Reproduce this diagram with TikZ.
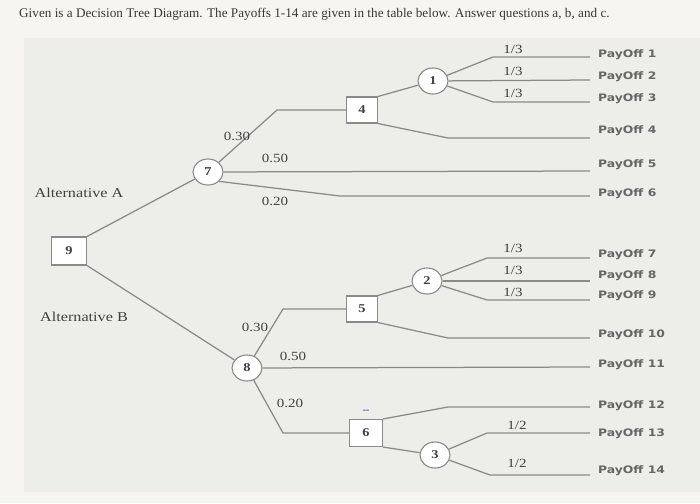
\documentclass[tikz,border=0pt]{standalone}
\usepackage{fontspec}
\setmainfont{Liberation Serif}[FakeStretch=1.2]
\newfontfamily\titlefont{Liberation Serif}
\newfontfamily\payfont{DejaVu Sans}[FakeStretch=1.2]
\usepackage{xcolor}
\usetikzlibrary{shapes.geometric}
\definecolor{linegray}{HTML}{8A8A8A}
\definecolor{labgray}{HTML}{404040}
\definecolor{paygray}{HTML}{666666}
\definecolor{panel}{HTML}{EDEDEA}
\definecolor{paper}{HTML}{F6F5F2}

\begin{document}
\begin{tikzpicture}[x=1pt,y=-1pt,
	branch/.style={draw=linegray,line width=1.25pt},
	decision/.style={rectangle,draw=linegray,fill=white,line width=1.1pt,minimum width=33pt,minimum height=27pt,inner sep=0pt,text=labgray,font=\bfseries\fontsize{12}{12}\selectfont},
	chance/.style={ellipse,draw=linegray,fill=white,line width=1.1pt,minimum width=30pt,minimum height=26pt,inner sep=0pt,text=labgray,font=\bfseries\fontsize{12}{12}\selectfont},
	prob/.style={text=labgray,font=\fontsize{12.5}{12.5}\selectfont,inner sep=0pt},
	alt/.style={text=labgray,font=\fontsize{13.5}{13.5}\selectfont,inner sep=0pt},
	pay/.style={anchor=west,text=paygray,font=\payfont\bfseries\fontsize{10.3}{10.3}\selectfont,inner sep=0pt}]
		\useasboundingbox (0,0) rectangle (700,503);
		\fill[paper] (0,0) rectangle (700,503);
		\fill[panel] (24,38) rectangle (700,492);
		\node[anchor=west,text=black!78,font=\titlefont\fontsize{13.2}{13.2}\selectfont,inner sep=0pt] (title) at (19,14) {Given is a Decision Tree Diagram. The Payoffs 1-14 are given in the table below. Answer questions a, b, and c.};

		\node[decision,minimum width=35pt,minimum height=28pt] (n9) at (69,251) {9};
		\node[chance] (n7) at (208,172) {7};
		\node[chance] (n8) at (247,368) {8};
		\node[decision,minimum width=31pt,minimum height=26pt] (n4) at (362,110) {4};
		\node[decision,minimum width=31pt,minimum height=26pt] (n5) at (362,309) {5};
		\node[decision] (n6) at (366,433) {6};
		\node[chance] (n1) at (433,81) {1};
		\node[chance] (n2) at (427,281) {2};
		\node[chance] (n3) at (435,455) {3};

		\coordinate (k4) at (277,110);
		\coordinate (k6) at (340,196);
		\coordinate (k1) at (493,57);
		\coordinate (k3) at (493,102);
		\coordinate (kp4) at (448,138);
		\coordinate (k5) at (283,309);
		\coordinate (k12) at (283,433);
		\coordinate (k7) at (487,258);
		\coordinate (k9) at (487,300);
		\coordinate (kp10) at (448,338);
		\coordinate (kp12) at (448,407);
		\coordinate (k13) at (487,433);
		\coordinate (k14) at (490,475);

		\foreach \i/\ly/\ty in {1/57/55,2/80/77,3/102/99,4/138/131,5/171/165,6/196/194,7/258/255,8/281/276,9/300/296,10/338/335,11/367/365,12/407/406,13/433/434,14/475/471}
		{
			\coordinate (e\i) at (590,\ly);
			\node[pay] (p\i) at (598,\ty) {PayOff \i};
		}

		\draw[branch] (n9.north east) -- (n7);
		\draw[branch] (n9.south east) -- (n8);
		\draw[branch] (n7) -- (k4) -- (n4.west);
		\draw[branch] (n7) -- (e5);
		\draw[branch] (n7.-40) -- (k6) -- (e6);
		\draw[branch] (n4.north east) -- (n1);
		\draw[branch] (n4.south east) -- (kp4) -- (e4);
		\draw[branch] (n1) -- (k1) -- (e1);
		\draw[branch] (n1) -- (e2);
		\draw[branch] (n1) -- (k3) -- (e3);

		\draw[branch] (n8) -- (k5) -- (n5.west);
		\draw[branch] (n8) -- (e11);
		\draw[branch] (n8) -- (k12) -- (n6.west);
		\draw[branch] (n5.north east) -- (n2);
		\draw[branch] (n5.south east) -- (kp10) -- (e10);
		\draw[branch] (n2) -- (k7) -- (e7);
		\draw[branch] (n2) -- (e8);
		\draw[branch] (n2) -- (k9) -- (e9);
		\draw[branch] (n6.north east) -- (kp12) -- (e12);
		\draw[branch] (n6.south east) -- (n3);
		\draw[branch] (n3) -- (k13) -- (e13);
		\draw[branch] (n3) -- (k14) -- (e14);

		\node[alt] (altA) at (79,193) {Alternative A};
		\node[alt] (altB) at (84,317) {Alternative B};
		\node[prob] (qa1) at (237,136) {0.30};
		\node[prob] (qa2) at (275,158) {0.50};
		\node[prob] (qa3) at (275,201) {0.20};
		\node[prob] (qb1) at (255,327) {0.30};
		\node[prob] (qb2) at (293,356) {0.50};
		\node[prob] (qb3) at (290,403) {0.20};
		\node[prob] (r11) at (513,49) {1/3};
		\node[prob] (r12) at (513,71) {1/3};
		\node[prob] (r13) at (513,93) {1/3};
		\node[prob] (r21) at (513,248) {1/3};
		\node[prob] (r22) at (513,270) {1/3};
		\node[prob] (r23) at (513,292) {1/3};
		\node[prob] (r31) at (517,425) {1/2};
		\node[prob] (r32) at (517,463) {1/2};
		\node[text=blue!55!black,font=\bfseries\fontsize{8}{8}\selectfont,inner sep=0pt] (mark) at (366,411) {-{}-};
\end{tikzpicture}
\end{document}
